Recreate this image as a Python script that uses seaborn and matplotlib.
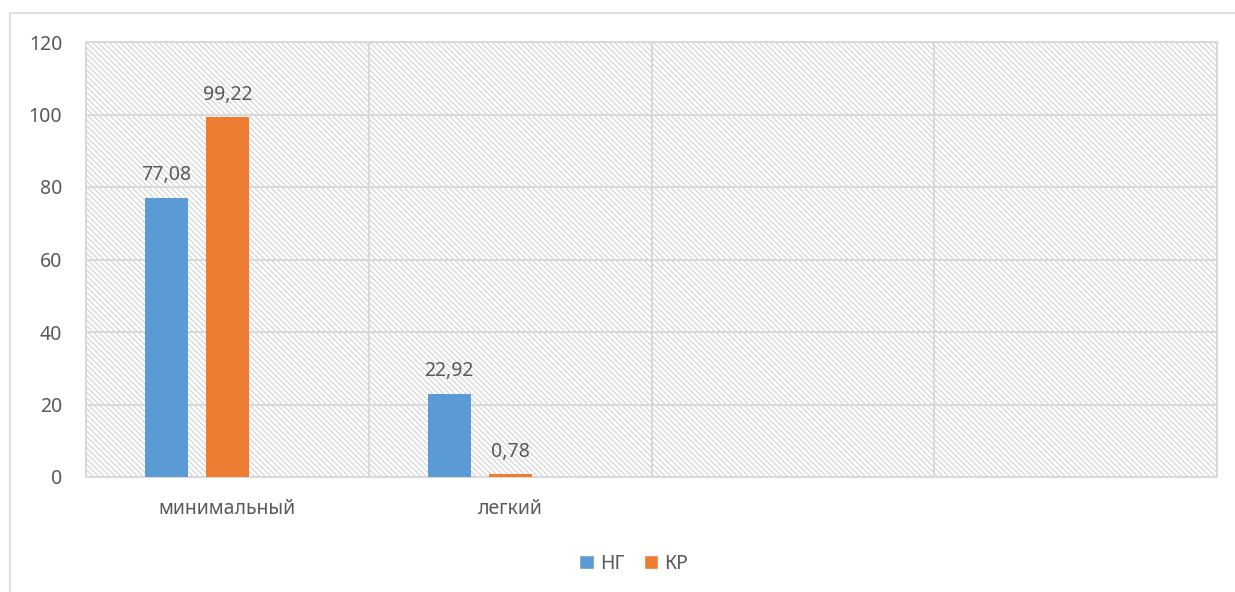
import numpy as np
import pandas as pd
import matplotlib
matplotlib.use("Agg")
import matplotlib.pyplot as plt
from matplotlib.patches import Rectangle, Patch
import seaborn as sns

# Severity categories (the last two columns carry no data)
categories = ["минимальный", "легкий", " ", "  "]
series_names = ["НГ", "КР", "_"]
ng_values = [77.08, 22.92, np.nan, np.nan]
kr_values = [99.22, 0.78, np.nan, np.nan]
empty_values = [np.nan, np.nan, np.nan, np.nan]
y_ticks = [0, 20, 40, 60, 80, 100, 120]

colors = ["#5B9BD5", "#ED7D31", "#A5A5A5"]
grid_col = "#d9d9d9"
text_col = "#595959"
fs = 14

sns.set_theme(style="white")
plt.rcParams["font.family"] = ["Noto Sans", "DejaVu Sans"]
plt.rcParams["hatch.linewidth"] = 0.8

df = pd.DataFrame({
    "cat": categories * 3,
    "series": [series_names[0]] * 4 + [series_names[1]] * 4 + [series_names[2]] * 4,
    "value": ng_values + kr_values + empty_values,
})

fig = plt.figure(figsize=(12.35, 5.92), dpi=100)
ax = fig.add_axes([86 / 1235, 1 - 477 / 592, (1217 - 86) / 1235, (477 - 42) / 592])

# outer chart border
fig.add_artist(Rectangle((10 / 1235, -0.5), 2.0, 1.5 - 13 / 592,
                         transform=fig.transFigure, fill=False,
                         edgecolor=grid_col, lw=1.2, zorder=0))

# hatched plot-area background
ax.add_patch(Rectangle((0, 0), 1, 1, transform=ax.transAxes, facecolor="white",
                       edgecolor="#d2d2d2", hatch="\\" * 6, lw=0, zorder=0))

sns.barplot(data=df, x="cat", y="value", hue="series", order=categories,
            hue_order=series_names, palette=colors, width=0.647, gap=0.295,
            saturation=1, ax=ax, legend=False, zorder=3, edgecolor="none")

ax.set_ylim(0, 120)
ax.set_xlim(-0.5, len(categories) - 0.5)
ax.set_yticks(y_ticks)
ax.set_yticklabels([str(t) for t in y_ticks])
ax.set_xlabel("")
ax.set_ylabel("")

for y in y_ticks[1:]:
    ax.axhline(y, color=grid_col, lw=1.5, zorder=1)
for x in np.arange(0.5, len(categories) - 0.5, 1.0):
    ax.axvline(x, color=grid_col, lw=1.5, zorder=1)

for s in ax.spines.values():
    s.set_visible(True)
    s.set_color(grid_col)
    s.set_linewidth(1.5)

ax.tick_params(axis="y", length=0, pad=17, labelsize=fs, labelcolor=text_col)
ax.tick_params(axis="x", length=0, pad=16, labelsize=fs, labelcolor=text_col)

# value labels
for cont, vals in zip(ax.containers[:2], [ng_values, kr_values]):
    for bar, v in zip(cont, vals):
        if np.isnan(v):
            continue
        ax.annotate(f"{v:.2f}".replace(".", ","),
                    (bar.get_x() + bar.get_width() / 2, v),
                    xytext=(0, 9), textcoords="offset points",
                    ha="center", va="bottom", fontsize=fs, color=text_col, zorder=5)

handles = [Patch(facecolor=colors[0], label=series_names[0]),
           Patch(facecolor=colors[1], label=series_names[1])]
fig.legend(handles=handles, loc="center", bbox_to_anchor=(0.513, 1 - 564 / 592),
           ncol=2, frameon=False, fontsize=fs, labelcolor=text_col,
           handlelength=0.75, handleheight=0.75, handletextpad=0.3, columnspacing=1.0)

fig.savefig("out.png", dpi=100)
